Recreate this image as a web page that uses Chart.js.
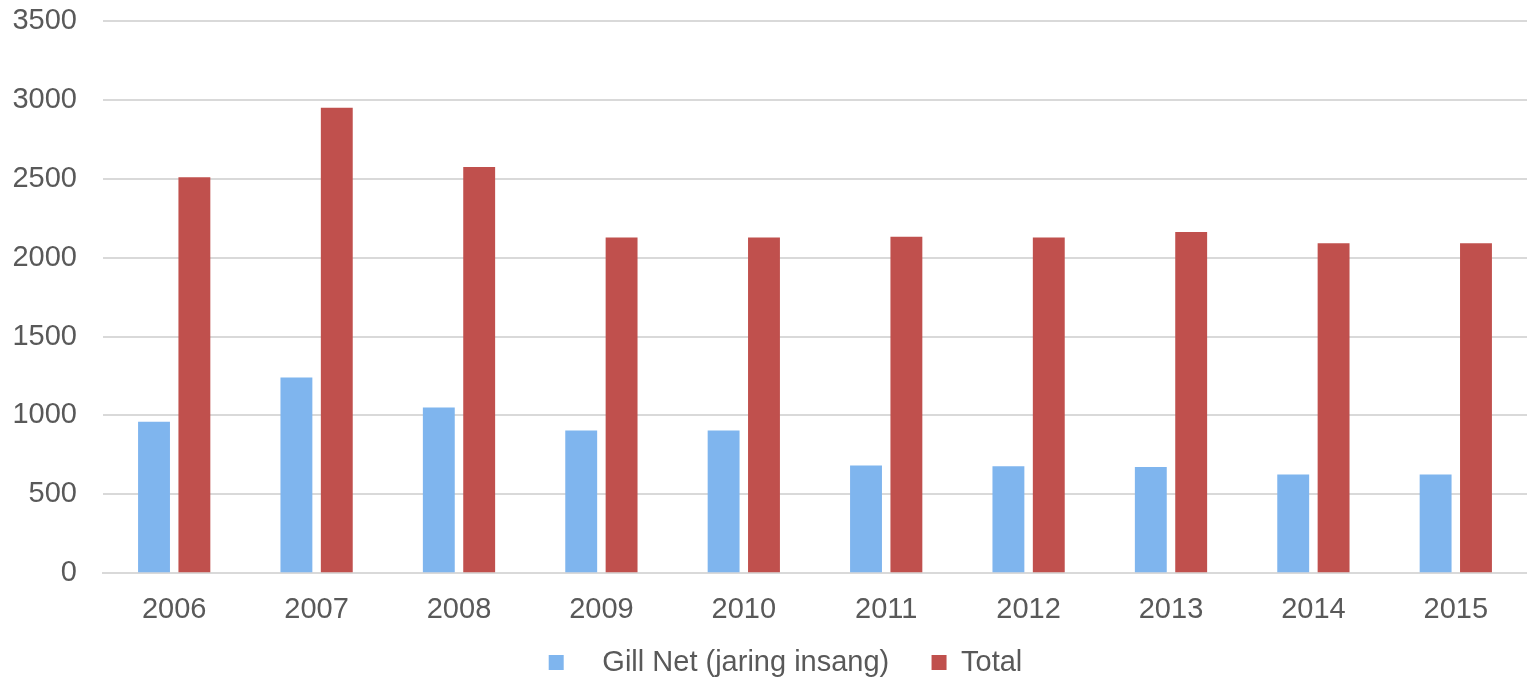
<!DOCTYPE html>
<html>
<head>
<meta charset="utf-8">
<script src="https://cdn.jsdelivr.net/npm/chart.js@4"></script>
<style>
  html, body { margin: 0; padding: 0; background: #ffffff; }
  #wrap { width: 1527px; height: 677px; }
</style>
</head>
<body>
<div id="wrap"><canvas id="grafiek" width="1527" height="677"></canvas></div>
<script>
// Jaren op de x-as
const years = ['2006', '2007', '2008', '2009', '2010', '2011', '2012', '2013', '2014', '2015'];

// Gill net (jaring insang) per jaar
const gillNet = [960, 1240, 1050, 905, 905, 682, 678, 673, 625, 625];

// Totaal per jaar
const total = [2510, 2950, 2575, 2127, 2127, 2132, 2128, 2162, 2092, 2092];

// Tekstkleur en rasterkleur
const textColor = '#595959';
const gridColor = '#d9d9d9';
const fontFamily = '"Liberation Sans", Arial, sans-serif';
const fontSize = 29;

// Legenda iets naar rechts schuiven
const legendaVerschuiving = {
    id: 'legendaVerschuiving',
    afterLayout(chart) {
        chart.legend.left += 16;
        chart.legend.right += 16;
    }
};

const ctx = document.getElementById('grafiek').getContext('2d');
new Chart(ctx, {
    type: 'bar',
    data: {
        labels: years,
        datasets: [{
            label: '   Gill Net (jaring insang)     ',
            data: gillNet,
            backgroundColor: '#7fb5ee',
            categoryPercentage: 0.567,
            barPercentage: 0.79
        }, {
            label: 'Total',
            data: total,
            backgroundColor: '#c0504d',
            categoryPercentage: 0.567,
            barPercentage: 0.79
        }]
    },
    plugins: [legendaVerschuiving],
    options: {
        responsive: false,
        animation: false,
        layout: {
            padding: { top: 0, left: 12, right: 0, bottom: -10 }
        },
        plugins: {
            tooltip: { enabled: false },
            legend: {
                position: 'bottom',
                labels: {
                    boxWidth: 15,
                    boxHeight: 15,
                    padding: 2,
                    color: textColor,
                    font: { family: fontFamily, size: fontSize }
                }
            }
        },
        scales: {
            x: {
                grid: { display: false, drawTicks: false },
                border: { color: gridColor, width: 2 },
                ticks: {
                    color: textColor,
                    padding: 19,
                    font: { family: fontFamily, size: fontSize }
                }
            },
            y: {
                min: 0,
                max: 3500,
                grid: { color: gridColor, lineWidth: 2, drawTicks: false },
                border: { display: false },
                ticks: {
                    stepSize: 500,
                    color: textColor,
                    padding: 26,
                    font: { family: fontFamily, size: fontSize },
                    callback: value => String(value)
                },
                // smallere as en minder ruimte boven de bovenste lijn
                afterFit: scale => {
                    scale.width = 91;
                    scale.paddingTop = 21;
                }
            }
        }
    }
});
</script>
</body>
</html>
